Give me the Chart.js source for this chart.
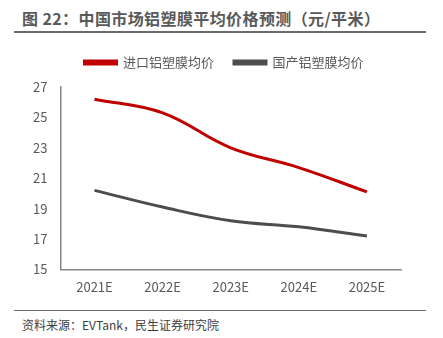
<!DOCTYPE html>
<html><head><meta charset="utf-8">
<script src="https://cdn.jsdelivr.net/npm/chart.js@4"></script>
<style>
html,body{margin:0;padding:0;background:#fff;width:443px;height:338px;overflow:hidden;font-family:"Noto Sans CJK SC","Noto Sans",sans-serif;}
#title{position:absolute;left:22px;top:6px;font-size:16px;letter-spacing:0.4px;font-weight:bold;color:#595959;white-space:nowrap;}
#rule1{position:absolute;left:14px;top:31px;width:412px;height:2px;background:#6b6b6b;}
#rule2{position:absolute;left:14px;top:310px;width:412px;height:1px;background:#6b6b6b;}
#src{position:absolute;left:22px;top:316px;font-size:12px;color:#404040;white-space:nowrap;}
#wrap{position:absolute;left:0;top:36px;width:443px;height:269px;}
</style></head><body>
<div id="title">图 22：中国市场铝塑膜平均价格预测（元/平米）</div>
<div id="rule1"></div>
<div id="wrap"><canvas id="c" width="443" height="269"></canvas></div>
<div id="rule2"></div>
<div id="src">资料来源：EVTank，民生证券研究院</div>
<script>
const categories = ["2021E","2022E","2023E","2024E","2025E"];
const importPrice = [26.2, 25.3, 23.0, 21.7, 20.1];
const domesticPrice = [20.2, 19.1, 18.2, 17.8, 17.2];
const yTicks = [15,17,19,21,23,25,27];
const seriesNames = ["进口铝塑膜均价","国产铝塑膜均价"];

const font = {family:'"Noto Sans CJK SC","Noto Sans",sans-serif', size:13};
const legendGap = {
  id:'legendGap',
  beforeLayout(chart){
    const lg = chart.legend;
    if (lg && !lg._patched){
      const f = lg.fit.bind(lg);
      lg.fit = function(){ f(); this.height += 8; };
      lg._patched = true;
    }
  },
  afterLayout(chart){
    const lg = chart.legend;
    if (lg){ lg.left += 11; lg.right += 11; }
  }
};
new Chart(document.getElementById('c'), {
  type:'line',
  data:{labels:categories, datasets:[
    {label:seriesNames[0], data:importPrice, borderColor:'#C00000', backgroundColor:'#C00000', borderWidth:3, pointRadius:0, tension:0.4},
    {label:seriesNames[1], data:domesticPrice, borderColor:'#4D4D4D', backgroundColor:'#4D4D4D', borderWidth:3, pointRadius:0, tension:0.4}
  ]},
  options:{
    responsive:false, animation:false,
    layout:{padding:{left:25, right:42, top:0, bottom:0}},
    plugins:{
      legend:{position:'top', labels:{boxWidth:32, boxHeight:3, color:'#595959', font:font, padding:20}},
      tooltip:{enabled:false}
    },
    scales:{
      x:{offset:true, grid:{display:false, drawTicks:false}, border:{color:'#888', width:1.5},
         ticks:{color:'#595959', font:font, padding:10}},
      y:{min:15, max:27, afterBuildTicks:(ax)=>{ax.ticks = yTicks.map(v=>({value:v}));},
         grid:{display:false, drawTicks:true, tickLength:5, tickColor:'#888'}, border:{color:'#888', width:1.5},
         ticks:{color:'#595959', font:font, padding:8}}
    }
  },
  plugins:[legendGap]
});
</script>
</body></html>
